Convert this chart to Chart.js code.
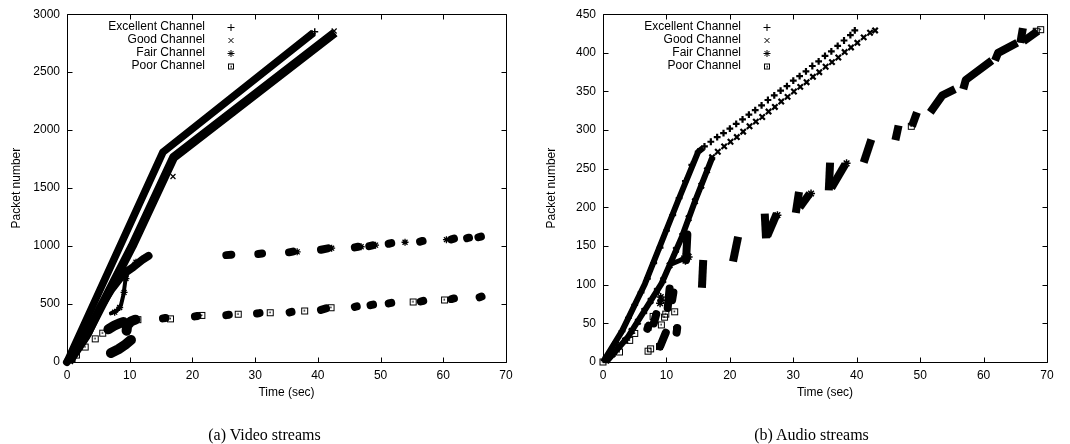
<!DOCTYPE html>
<html>
<head>
<meta charset="utf-8">
<script src="https://cdn.jsdelivr.net/npm/chart.js@4.4.1/dist/chart.umd.min.js"></script>
<style>
  html, body { margin: 0; padding: 0; background: #fff; }
  #wrap { position: relative; width: 1070px; height: 444px; overflow: hidden; }
  .panel { position: absolute; top: 0; width: 535px; height: 444px; }
  .caption { position: absolute; top: 426px; width: 535px; text-align: center;
             font: 16px "Liberation Serif", "Times New Roman", serif; color: #000; line-height: 18px; }
</style>
</head>
<body>
<div id="wrap">
  <div class="panel" style="left:0"><canvas id="video" width="535" height="444"></canvas></div>
  <div class="panel" style="left:535px"><canvas id="audio" width="535" height="444"></canvas></div>
  <div class="caption" style="left:-3px">(a) Video streams</div>
  <div class="caption" style="left:544px">(b) Audio streams</div>
</div>
<script>
// ---- series and axes ----
const seriesNames = ['Excellent Channel', 'Good Channel', 'Fair Channel', 'Poor Channel'];
const timeTicks   = [0, 10, 20, 30, 40, 50, 60, 70];
const videoTicks  = [0, 500, 1000, 1500, 2000, 2500, 3000];
const audioTicks  = [0, 50, 100, 150, 200, 250, 300, 350, 400, 450];

// Video streams: dense runs are kept as polylines, isolated packets as points
const videoExcellentRun = [[0, 0], [15.3, 1810], [39.3, 2840]];
const videoExcellentPts = [[39.1, 2832], [39.5, 2848]];
const videoGoodRun      = [[0.3, 0], [3, 220], [10.4, 1000], [17, 1765], [42.7, 2840]];
const videoGoodPts      = [[16.9, 1600], [26.4, 2150], [42.6, 2855]];
const videoFairRun      = [[0, 0], [3.4, 250], [5.3, 470], [7, 620], [9, 760], [10.6, 820], [12, 880], [13, 915]];
const videoFairBranch   = [[7, 420], [8, 445], [8.6, 490], [9, 580], [9.3, 700], [9.8, 800]];
const videoFairClumps   = [
  [[25.4, 922], [26.2, 926]], [[30.5, 932], [31.1, 936]], [[35.4, 946], [36, 952]],
  [[40.5, 968], [41.6, 980]], [[45.9, 988], [46.4, 994]], [[48.2, 1000], [48.7, 1006]],
  [[51.3, 1020], [51.7, 1025]], [[56.3, 1038], [56.7, 1044]], [[61.3, 1058], [61.7, 1064]],
  [[63.8, 1068], [64.1, 1072]], [[65.6, 1076], [66, 1082]]
];
const videoFairPts      = [[7.6, 430], [8.4, 470], [9.1, 600], [9.4, 720], [9.8, 790], [11, 860], [12.3, 895],
                           [36.7, 950], [42.2, 982], [46.9, 994], [49.2, 1008], [53.9, 1033], [60.5, 1055]];
const videoPoorRuns     = [
  [[6.6, 282], [7.5, 312], [8.4, 335], [9, 345]],
  [[9.5, 270], [9.6, 315], [10.2, 350], [10.9, 365]],
  [[7, 78], [8.2, 110], [9.3, 150], [10.2, 190]]
];
const videoPoorClumps   = [
  [[15.3, 376], [15.7, 380]], [[20.4, 393], [20.8, 397]], [[25.4, 404], [25.8, 408]],
  [[30.3, 418], [30.7, 422]], [[35.5, 428], [35.8, 432]], [[40.5, 450], [41.3, 462]],
  [[45.9, 476], [46.2, 480]], [[48.4, 490], [48.8, 495]], [[51.3, 505], [51.7, 510]],
  [[56.4, 522], [56.8, 528]], [[61.3, 543], [61.7, 548]], [[65.8, 558], [66.1, 564]]
];
const videoPoorPts      = [[0.8, 30], [1.5, 60], [2.9, 129], [4.5, 200], [5.7, 249], [11.3, 365],
                           [16.5, 372], [21.5, 402], [27.3, 412], [32.4, 425], [37.9, 440], [42.1, 468],
                           [55.2, 518], [60.2, 535]];

// Audio streams
const audioExcellentRun = [[0, 0], [3, 40], [6.6, 101], [11.8, 208], [15, 272], [15.8, 277]];
const audioExcellentPts = [
  [1, 12], [2, 25], [3, 40], [4, 57], [5, 74], [6, 90], [7, 108], [8, 128], [9, 148], [10, 170],
  [11, 190], [12, 212], [13, 234], [14, 255], [15, 272],
  [16, 279], [17, 285], [18, 291], [19, 296], [20, 302], [21, 308], [22, 314], [23, 320], [24, 326],
  [25, 332], [26, 339], [27, 345], [28, 351], [29, 357], [30, 364], [31, 370], [32, 376], [33, 383],
  [34, 389], [35, 396], [36, 402], [37, 409], [38, 416], [39, 423], [39.7, 429]
];
const audioGoodRun      = [[0.5, 0], [3.9, 32], [9.2, 101], [12.4, 161], [14.5, 208], [17.3, 266]];
const audioGoodPts      = [
  [1.5, 10], [2.5, 20], [3.5, 28], [4.5, 40], [5.5, 52], [6.5, 66], [7.5, 79], [8.5, 92], [9.5, 106],
  [10.5, 125], [11.5, 145], [12.5, 163], [13.5, 186], [14.5, 208], [15.5, 228], [16.4, 248], [17.2, 265],
  [18.1, 272], [19.1, 279], [20.1, 285], [21.1, 291], [22.1, 298], [23.1, 305], [24.1, 311], [25.1, 317],
  [26.1, 324], [27.1, 330], [28.1, 337], [29.1, 343], [30.1, 350], [31.1, 356], [32.1, 362], [33.1, 369],
  [34.1, 375], [35.1, 382], [36.1, 388], [37.1, 394], [38.1, 401], [39.1, 407], [40.1, 413], [41.1, 420],
  [42.1, 426], [42.9, 429]
];
const audioFairBranch   = [[10.8, 127], [12, 131], [13.4, 136]];
const audioFairRuns     = [
  [[15.6, 96], [15.8, 132]], [[20.5, 130], [21.3, 162]],
  [[25.5, 192], [25.7, 160]], [[25.9, 163], [27.4, 192]],
  [[30.4, 193], [30.9, 220]], [[31, 200], [32.6, 218]],
  [[35.6, 222], [35.8, 258]], [[36, 225], [38.2, 256]],
  [[41.1, 258], [42.3, 288]], [[46.1, 287], [46.6, 306]], [[48.7, 305], [49.5, 323]],
  [[51.6, 323], [53.5, 345], [55.5, 353]], [[56.8, 353], [57.2, 365], [61.3, 390]],
  [[61.8, 390], [62.3, 400], [65.3, 413]], [[65.8, 413], [66.2, 432]], [[66.3, 415], [68.5, 428]]
];
const audioFairPts      = [[9, 76], [9.1, 84], [9.2, 80], [12.8, 134], [13.2, 140], [13.5, 136], [13, 131],
                           [27.5, 190], [32.8, 218], [38.4, 257]];
const audioPoorRuns     = [
  [[7, 43], [7.2, 47]], [[8, 50], [8.4, 62]], [[9, 20], [9.5, 30], [9.9, 38]],
  [[10.2, 70], [10.5, 95]], [[10.9, 80], [11.1, 90]], [[11.6, 38], [11.7, 44]], [[13.1, 132], [13.3, 165]]
];
const audioPoorPts      = [[0, 0], [0.5, 3], [2.6, 13], [4.2, 28], [5, 37], [7.1, 14], [7.5, 17], [7.9, 59],
                           [9.2, 48], [9.7, 58], [9.9, 62], [11.3, 65], [11.6, 42], [7.1, 45], [8.9, 20],
                           [25.8, 165], [48.6, 305], [66, 418], [68.3, 428], [69, 430]];

// ---- marker shapes ----
function boxDot(size) {
  const c = document.createElement('canvas');
  c.width = c.height = size;
  const g = c.getContext('2d');
  g.strokeStyle = '#000'; g.lineWidth = 1;
  g.strokeRect(1.5, 1.5, size - 3, size - 3);
  g.fillStyle = '#000';
  g.fillRect(Math.floor(size / 2) - 0.5, Math.floor(size / 2) - 0.5, 1.5, 1.5);
  return c;
}
const keyStyles = ['cross', 'crossRot', 'star', boxDot(8)];
const poorMark  = boxDot(9);

const pts = a => a.map(([x, y]) => ({ x, y }));

function run(points, width, cap = 'butt') {
  return { data: pts(points), showLine: true, borderColor: '#000', backgroundColor: '#000',
           borderWidth: width, borderCapStyle: cap, borderJoinStyle: 'round', pointRadius: 0, clip: 6 };
}
function marks(points, style, radius, width) {
  return { data: pts(points), showLine: false, pointStyle: style, pointRadius: radius,
           borderColor: '#000', backgroundColor: '#000', borderWidth: width, clip: 6 };
}

// ---- gnuplot-like frame: full border and inward ticks on every side ----
const frame = {
  id: 'frame',
  afterDraw(chart) {
    const { ctx, chartArea: a, scales: { x, y } } = chart;
    const L = Math.round(a.left) + 0.5, R = Math.round(a.right) + 0.5;
    const T = Math.round(a.top) + 0.5, B = Math.round(a.bottom) + 0.5;
    ctx.save();
    ctx.strokeStyle = '#000';
    ctx.lineWidth = 1;
    ctx.beginPath();
    ctx.rect(L, T, R - L, B - T);
    x.ticks.forEach(t => {
      const px = Math.round(x.getPixelForValue(t.value)) + 0.5;
      ctx.moveTo(px, B); ctx.lineTo(px, B - 5);
      ctx.moveTo(px, T); ctx.lineTo(px, T + 5);
    });
    y.ticks.forEach(t => {
      const py = Math.round(y.getPixelForValue(t.value)) + 0.5;
      ctx.moveTo(L, py); ctx.lineTo(L + 5, py);
      ctx.moveTo(R, py); ctx.lineTo(R - 5, py);
    });
    ctx.stroke();
    ctx.restore();
  }
};

// key in the upper left corner, labels right-aligned with the symbol after them
const seriesKey = {
  id: 'seriesKey',
  afterDraw(chart) {
    const { ctx, chartArea: a } = chart;
    ctx.save();
    ctx.font = '12px "Liberation Sans", Arial, sans-serif';
    ctx.textAlign = 'right';
    ctx.textBaseline = 'middle';
    ctx.fillStyle = '#000';
    ctx.strokeStyle = '#000';
    seriesNames.forEach((name, i) => {
      const yy = a.top + 12.5 + i * 13;
      ctx.fillText(name, a.left + 138, yy);
      Chart.helpers.drawPoint(ctx, { pointStyle: keyStyles[i], radius: 3.5, borderWidth: 1 },
                              Math.round(a.left + 164), Math.round(yy) + 0.5);
    });
    ctx.restore();
  }
};

const font = { family: '"Liberation Sans", Arial, sans-serif', size: 12 };

function buildChart(id, yTicks, yMax, datasets, pad, yWidth) {
  return new Chart(document.getElementById(id), {
    type: 'scatter',
    data: { datasets },
    options: {
      responsive: false,
      animation: false,
      devicePixelRatio: 1,
      events: [],
      layout: { padding: pad },
      plugins: { legend: { display: false }, tooltip: { enabled: false } },
      scales: {
        x: {
          type: 'linear', min: 0, max: 70,
          afterBuildTicks: s => { s.ticks = timeTicks.map(v => ({ value: v })); },
          ticks: { padding: 6, color: '#000', font, autoSkip: false, maxRotation: 0, callback: v => String(v) },
          grid: { display: false, drawTicks: false },
          border: { display: false },
          title: { display: true, text: 'Time (sec)', color: '#000', font, padding: { top: 0, bottom: 2 } },
          afterFit: s => { s.height = 40; }
        },
        y: {
          type: 'linear', min: 0, max: yMax,
          afterBuildTicks: s => { s.ticks = yTicks.map(v => ({ value: v })); },
          ticks: { padding: 7, color: '#000', font, autoSkip: false, callback: v => String(v) },
          grid: { display: false, drawTicks: false },
          border: { display: false },
          title: { display: true, text: 'Packet number', color: '#000', font, padding: { top: 1, bottom: 0 } },
          afterFit: s => { s.width = yWidth; }
        }
      }
    },
    plugins: [frame, seriesKey]
  });
}

const videoSets = [
  run(videoExcellentRun, 7.5),
  marks(videoExcellentPts, 'cross', 3.5, 1.5),
  run(videoGoodRun, 9),
  marks(videoGoodPts, 'crossRot', 3.5, 1.2),
  run(videoFairRun, 8, 'round'),
  run(videoFairBranch, 4, 'round'),
  ...videoFairClumps.map(c => run(c, 8, 'round')),
  marks(videoFairPts, 'star', 3.5, 1.3),
  ...videoPoorRuns.map(c => run(c, 10, 'round')),
  ...videoPoorClumps.map(c => run(c, 8, 'round')),
  marks(videoPoorPts, poorMark, 4, 1)
];

const audioSets = [
  run(audioExcellentRun, 6),
  marks(audioExcellentPts, 'cross', 3.4, 2.2),
  run(audioGoodRun, 6),
  marks(audioGoodPts, 'crossRot', 3.8, 2.2),
  run(audioFairBranch, 5, 'round'),
  ...audioFairRuns.map(c => run(c, 8)),
  marks(audioFairPts, 'star', 4, 1.5),
  ...audioPoorRuns.map(c => run(c, 8, 'round')),
  marks(audioPoorPts, poorMark, 4, 1)
];

buildChart('video', videoTicks, 3000, videoSets, { left: 8, right: 29, top: 13, bottom: 42 }, 59);
buildChart('audio', audioTicks, 450, audioSets, { left: 8, right: 23, top: 13, bottom: 42 }, 60);
</script>
</body>
</html>
